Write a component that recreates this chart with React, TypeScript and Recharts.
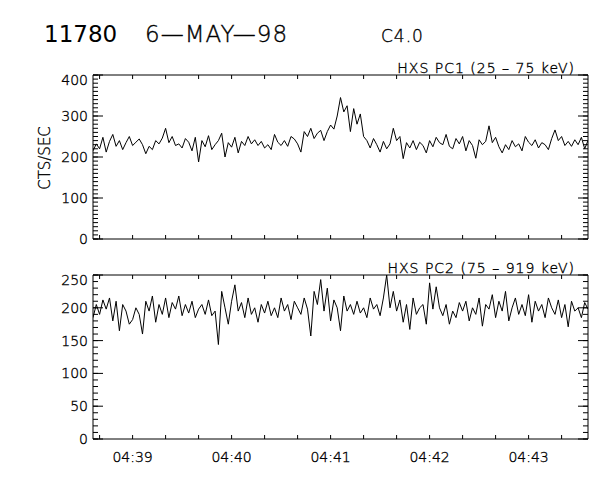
import { Line, LineChart, XAxis, YAxis } from "recharts";

const FONT = "'DejaVu Sans', sans-serif";
const LIGHT = 200;
// thin outline so the extra-light strokes read black, like the plotter font
const INK = { fill: "#000", stroke: "#000", strokeWidth: 0.35 };

// sample cadence of the HXS light curves
const START = "04:38:36";
const CADENCE = 2;

const X_TICKS = [
  "04:38:40", "04:39:00", "04:39:20", "04:39:40", "04:40:00", "04:40:20", "04:40:40", "04:41:00",
  "04:41:20", "04:41:40", "04:42:00", "04:42:20", "04:42:40", "04:43:00", "04:43:20",
];

const PC1_MAJOR = [0, 100, 200, 300, 400];
const PC2_MAJOR = [0, 50, 100, 150, 200, 250];

// HXS PC1 (25 - 75 keV), counts/s
const PC1 = [
  215, 232, 220, 248, 212, 238, 255, 226, 240, 218,
  235, 250, 228, 236, 244, 230, 208, 226, 218, 240,
  232, 246, 270, 235, 250, 228, 232, 222, 245, 236,
  215, 248, 188, 240, 225, 252, 218, 230, 240, 258,
  200, 235, 224, 248, 210, 238, 228, 250, 232, 242,
  228, 238, 222, 230, 218, 255, 236, 228, 240, 226,
  250, 244, 232, 212, 262, 250, 270, 245, 258, 265,
  240, 262, 278, 268, 300, 345, 310, 325, 262, 318,
  280, 305, 250, 240, 222, 245, 230, 212, 238, 220,
  232, 270, 240, 250, 196, 235, 222, 240, 218, 236,
  228, 210, 240, 225, 248, 235, 230, 255, 226, 220,
  245, 232, 250, 215, 240, 228, 197, 242, 230, 238,
  276, 235, 248, 225, 210, 230, 218, 240, 225, 232,
  215, 250, 236, 228, 242, 222, 235, 230, 218, 245,
  266, 240, 250, 228, 238, 226, 242, 230, 248, 220, 240,
];

// HXS PC2 (75 - 919 keV), counts/s
const PC2 = [
  185, 205, 190, 212, 198, 215, 180, 210, 165, 205,
  195, 175, 182, 200, 190, 160, 210, 195, 218, 178,
  205, 190, 215, 185, 208, 198, 218, 188, 205, 192,
  210, 185, 198, 205, 190, 212, 188, 195, 144, 225,
  200, 175, 210, 235, 195, 208, 185, 215, 190, 200,
  178, 205, 192, 210, 188, 200, 185, 215, 195, 205,
  182, 210, 200, 190, 215, 198, 157, 225, 205, 243,
  195, 230, 180, 212, 200, 165, 218, 195, 205, 190,
  210, 192, 200, 185, 215, 198, 205, 188, 215, 250,
  200, 225, 195, 212, 178, 205, 167, 215, 190, 200,
  205, 175, 238, 198, 232, 200, 188, 205, 175, 195,
  185, 208, 195, 210, 180, 200, 190, 215, 172, 205,
  198, 220, 185, 210, 195, 225, 180, 200, 215, 190,
  205, 188, 220, 178, 210, 195, 205, 185, 215, 200,
  190, 212, 185, 205, 171, 210, 195, 200, 185, 208, 198,
];

const toSec = (s: string) => {
  const [h, m, sec] = s.split(":").map(Number);
  return h * 3600 + m * 60 + (sec || 0);
};
const hhmm = (t: number) =>
  `${String(Math.floor(t / 3600)).padStart(2, "0")}:${String(Math.floor((t % 3600) / 60)).padStart(2, "0")}`;

const t0 = toSec(START);
const xTicks = X_TICKS.map(toSec);
const rows = (values: number[]) => values.map((v, i) => ({ t: t0 + i * CADENCE, v }));
const range = (max: number, step: number) => Array.from({ length: max / step + 1 }, (_, i) => i * step);

const LEFT = 93;
const RIGHT = 588;

const Empty = () => <g />;

function Panel({
  values, yMax, major, top, bottom, showTime,
}: { values: number[]; yMax: number; major: number[]; top: number; bottom: number; showTime: boolean }) {
  const data = rows(values);
  const xDomain = [data[0].t, data[data.length - 1].t];
  const minor = range(yMax, 10);
  const xCommon = {
    dataKey: "t", type: "number" as const, domain: xDomain, ticks: xTicks, interval: 0 as const,
    tickSize: 4, mirror: true, height: 0.01, stroke: "#000", allowDataOverflow: true,
  };
  const yCommon = {
    type: "number" as const, domain: [0, yMax], interval: 0 as const, mirror: true, width: 0.01,
    stroke: "#000", allowDataOverflow: true,
  };
  const timeLabel = (p: any) => {
    const t = p.payload.value;
    if (!showTime || t % 60 !== 0) return <g />;
    return (
      <text x={p.x} y={bottom + 23} textAnchor="middle" fontSize={14} fontFamily={FONT} fontWeight={LIGHT} {...INK}>
        {hhmm(t)}
      </text>
    );
  };
  const yLabel = (p: any) => (
    <text
      x={LEFT - 5} y={p.y + (p.payload.value === yMax ? 5 : 0)} textAnchor="end" dominantBaseline="central"
      fontSize={14} fontFamily={FONT} fontWeight={LIGHT} {...INK}
    >
      {p.payload.value}
    </text>
  );

  return (
    <div style={{ position: "absolute", left: 0, top: 0 }}>
      <LineChart width={600} height={480} data={data} margin={{ top, bottom: 480 - bottom, left: LEFT, right: 600 - RIGHT }}>
        <XAxis xAxisId="b" orientation="bottom" {...xCommon} tick={timeLabel} />
        <XAxis xAxisId="t" orientation="top" {...xCommon} tick={Empty} />
        <YAxis yAxisId="l" orientation="left" {...yCommon} ticks={major} tickSize={10} tick={yLabel} />
        <YAxis yAxisId="lm" orientation="left" {...yCommon} ticks={minor} tickSize={5} axisLine={false} tick={Empty} />
        <YAxis yAxisId="r" orientation="right" {...yCommon} ticks={major} tickSize={10} tick={Empty} />
        <YAxis yAxisId="rm" orientation="right" {...yCommon} ticks={minor} tickSize={5} axisLine={false} tick={Empty} />
        <Line
          xAxisId="b" yAxisId="l" type="linear" dataKey="v" stroke="#000" strokeWidth={1}
          dot={false} isAnimationActive={false}
        />
      </LineChart>
    </div>
  );
}

export default function App() {
  return (
    <div style={{ position: "absolute", left: 0, top: 0, width: 600, height: 480, background: "#fff" }}>
      <Panel values={PC1} yMax={400} major={PC1_MAJOR} top={75} bottom={239} showTime={false} />
      <Panel values={PC2} yMax={250} major={PC2_MAJOR} top={275} bottom={439} showTime />
      <svg width={600} height={480} style={{ position: "absolute", left: 0, top: 0, pointerEvents: "none" }} fontFamily={FONT} fill="#000">
        <text x={44} y={42} fontSize={23}>11780</text>
        <g fontWeight={LIGHT} {...INK}>
          <text x={145} y={42} fontSize={23} letterSpacing={1}>6—MAY—98</text>
          <text x={381} y={42} fontSize={17} letterSpacing={1}>C4.0</text>
          <text x={575} y={73} fontSize={14} letterSpacing={1} textAnchor="end">HXS PC1 (25 – 75 keV)</text>
          <text x={575} y={273} fontSize={14} letterSpacing={1} textAnchor="end">HXS PC2 (75 – 919 keV)</text>
          <text x={50} y={158} fontSize={15} textAnchor="middle" transform="rotate(-90 50 158)">CTS/SEC</text>
        </g>
      </svg>
    </div>
  );
}
